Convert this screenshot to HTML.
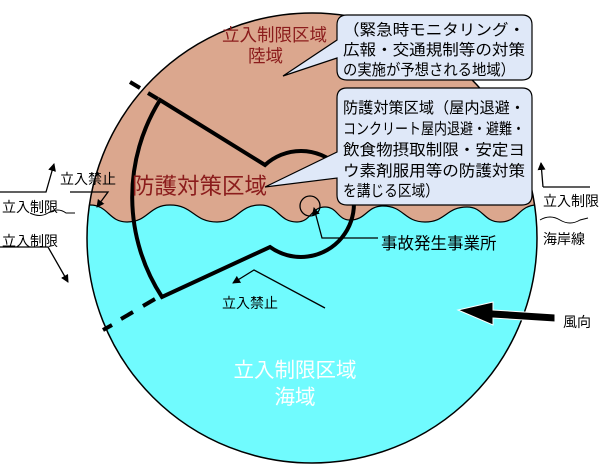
<!DOCTYPE html>
<html><head><meta charset="utf-8"><style>
html,body{margin:0;padding:0;background:#fff;}
svg{display:block;font-family:"Liberation Sans","Noto Sans CJK JP",sans-serif;}
</style></head><body>
<svg width="600" height="465" viewBox="0 0 600 465" xmlns="http://www.w3.org/2000/svg">
<defs>
<clipPath id="c"><circle cx="312" cy="238" r="225"/></clipPath>
<marker id="ar" markerWidth="8" markerHeight="8" refX="7" refY="4" orient="auto" markerUnits="userSpaceOnUse"><path d="M0,0 L8,4 L0,8 Z" fill="#000"/></marker>
</defs>
<circle cx="312" cy="238" r="225" fill="#70fbfe"/>
<g clip-path="url(#c)">
<path d="M60,0 L560,0 L560,205 L537,205 C518.5,205 518.5,222 500,222 C483.5,222 483.5,207 467,207 C446,207 446,222 425,222 C404,222 404,206 383,206 C366.5,206 366.5,220 350,220 C337.5,220 337.5,207 325,207 C311,207 311,222 297,222 C278.5,222 278.5,205 260,205 C238.5,205 238.5,222 217,222 C193.5,222 193.5,205 170,205 C148.5,205 148.5,222 127,222 C108.5,222 108.5,205 90,205 L60,205 Z" fill="#dba78e" stroke="#000" stroke-width="1.2"/>
</g>
<circle cx="312" cy="238" r="225" fill="none" stroke="#000" stroke-width="1.5"/>
<!-- protective zone -->
<path d="M160,100 A183,183 0 0 0 162,297 L270,247 A53,53 0 1 0 265,165 Z" fill="none" stroke="#000" stroke-width="4" stroke-linejoin="miter"/>
<g stroke="#000" stroke-width="4">
<line x1="130" y1="82" x2="140" y2="88"/>
<line x1="148" y1="93" x2="158" y2="99"/>
<line x1="155" y1="299" x2="143" y2="306"/>
<line x1="133" y1="312" x2="121" y2="319"/>
<line x1="112" y1="325" x2="103" y2="330"/>
</g>
<circle cx="310" cy="206" r="10" fill="none" stroke="#000" stroke-width="1.3"/>
<!-- callouts -->
<path d="M347,15 L522,15 Q532,15 532,25 L532,70 Q532,80 522,80 L347,80 Q337,80 337,70 L337,58 L283,76 L337,40 L337,25 Q337,15 347,15 Z" fill="#dfe8f8" stroke="#000" stroke-width="1.2"/>
<path d="M347,88 L522,88 Q532,88 532,98 L532,195 Q532,205 522,205 L347,205 Q337,205 337,195 L337,178 L265,187 L337,152 L337,98 Q337,88 347,88 Z" fill="#dfe8f8" stroke="#000" stroke-width="1.2"/>
<g font-size="15.5" fill="#000">
<text x="343" y="35" textLength="182" lengthAdjust="spacingAndGlyphs">（緊急時モニタリング・</text>
<text x="343" y="55" textLength="182" lengthAdjust="spacingAndGlyphs">広報・交通規制等の対策</text>
<text x="343" y="75" textLength="172" lengthAdjust="spacingAndGlyphs">の実施が予想される地域）</text>
<text x="343" y="113" textLength="182" lengthAdjust="spacingAndGlyphs">防護対策区域（屋内退避・</text>
<text x="343" y="134" textLength="182" lengthAdjust="spacingAndGlyphs">コンクリート屋内退避・避難・</text>
<text x="343" y="155" textLength="182" lengthAdjust="spacingAndGlyphs">飲食物摂取制限・安定ヨ</text>
<text x="343" y="176" textLength="182" lengthAdjust="spacingAndGlyphs">ウ素剤服用等の防護対策</text>
<text x="343" y="196" textLength="96" lengthAdjust="spacingAndGlyphs">を講じる区域）</text>
</g>
<!-- main labels -->
<g fill="#8b1c1c">
<text x="222" y="41" font-size="17.5">立入制限区域</text>
<text x="248" y="62" font-size="17.5">陸域</text>
<text x="132" y="194" font-size="22.5">防護対策区域</text>
</g>
<g fill="#fff" font-size="20.5" text-anchor="middle">
<text x="295" y="377">立入制限区域</text>
<text x="295" y="404">海域</text>
</g>
<!-- annotations -->
<g stroke="#000" stroke-width="1.3" fill="none">
<polyline points="0,192 46,192 54,164" marker-end="url(#ar)"/>
<polyline points="0,247 48,247 68,282" marker-end="url(#ar)"/>
<polyline points="70,192 108,192 97,207" marker-end="url(#ar)"/>
<path d="M30,213 Q40,218 48,213 Q58,207 66,213 L75,213" stroke-width="1"/>
<polyline points="543,187 590,187" />
<polyline points="543,187 541,163" marker-end="url(#ar)"/>
<path d="M540,220 Q550,214 560,220 Q570,226 580,220 L588,218" stroke-width="1"/>
<polyline points="325,308 254,270 233,283" marker-end="url(#ar)"/>
<polyline points="378,238 322,238 314,208" marker-end="url(#ar)"/>
</g>
<g font-size="14" fill="#000">
<text x="60" y="184">立入禁止</text>
<text x="2" y="212">立入制限</text>
<text x="2" y="246">立入制限</text>
<text x="543" y="206">立入制限</text>
<text x="543" y="244">海岸線</text>
<text x="222" y="308">立入禁止</text>
<text x="563" y="327">風向</text>
<text x="381" y="249" font-size="16.5">事故発生事業所</text>
</g>
<!-- wind arrow -->
<path d="M555,314 L493,310 L493,302 L458,310 L493,325 L493,318 L555,322 Z" fill="#000" stroke="#fff" stroke-width="1"/>
</svg>
</body></html>
